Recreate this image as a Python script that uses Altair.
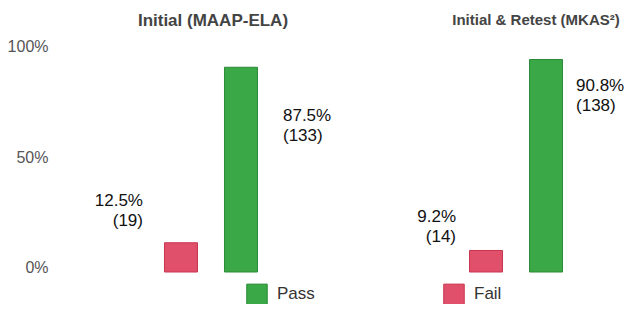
import altair as alt
import pandas as pd

groups = ["Initial (MAAP-ELA)", "Initial & Retest (MKAS²)"]
statuses = ["Fail", "Pass"]
group_col = ["Initial (MAAP-ELA)", "Initial (MAAP-ELA)", "Initial & Retest (MKAS²)", "Initial & Retest (MKAS²)"]
status_col = ["Fail", "Pass", "Fail", "Pass"]
pct = [0.125, 0.875, 0.092, 0.908]
counts = [19, 133, 14, 138]
pct_labels = ["12.5%", "87.5%", "9.2%", "90.8%"]
y_ticks = [0.0, 0.5, 1.0]

df = pd.DataFrame({
    "group": group_col,
    "status": status_col,
    "pct": pct,
    "count": counts,
    "label": [f"{p}\n({c})" for p, c in zip(pct_labels, counts)],
})
ticks_df = pd.DataFrame({"t": y_ticks})
titles_df = pd.DataFrame({"group": groups})

FONT = "Liberation Sans"
RED = "#e0506a"
GREEN = "#3aa846"

xenc = alt.X("group:N", scale=alt.Scale(domain=groups, paddingInner=0.5, paddingOuter=0.104), axis=None)
xoff = alt.XOffset("status:N", scale=alt.Scale(domain=statuses, paddingInner=0.45, paddingOuter=0.496))
ybar = alt.Y("pct:Q", scale=alt.Scale(domain=[0, 1]), axis=None)

bars = alt.Chart(df).mark_bar(strokeWidth=1).encode(
    x=xenc,
    xOffset=xoff,
    y=ybar,
    color=alt.Color(
        "status:N",
        scale=alt.Scale(domain=["Pass", "Fail"], range=[GREEN, RED]),
        legend=alt.Legend(
            title=None, orient="none", legendX=143, legendY=245, direction="horizontal",
            symbolType="square", symbolSize=420, symbolStrokeWidth=1,
            labelFont=FONT, labelFontSize=17, labelColor="#333333", labelOffset=9,
            columnPadding=126, symbolOpacity=1,
        ),
    ),
    stroke=alt.Stroke("status:N", scale=alt.Scale(domain=["Pass", "Fail"], range=["#2a8a36", "#c8344f"]), legend=None),
)

def label_layer(status, group, dx, dy, align):
    return alt.Chart(df).transform_filter(
        (alt.datum.status == status) & (alt.datum.group == group)
    ).mark_text(
        font=FONT, fontSize=17, lineBreak="\n", lineHeight=20, align=align, baseline="middle",
        dx=dx, dy=dy, color="#111111",
    ).encode(x=xenc, xOffset=xoff, y=ybar, text="label:N")

lab1 = label_layer("Fail", groups[0], -38, -42, "right")
lab2 = label_layer("Pass", groups[0], 42, 49, "left")
lab3 = label_layer("Fail", groups[1], -30, -33, "right")
lab4 = label_layer("Pass", groups[1], 30, 26, "left")

title_left = alt.Chart(titles_df).transform_filter(alt.datum.group == groups[0]).mark_text(
    font=FONT, fontSize=17, fontWeight="bold", color="#444444", dx=2
).encode(x=xenc, y=alt.value(-17), text="group:N")
title_right = alt.Chart(titles_df).transform_filter(alt.datum.group == groups[1]).mark_text(
    font=FONT, fontSize=15, fontWeight="bold", color="#444444", dx=20
).encode(x=xenc, y=alt.value(-18), text="group:N")

axis_layer = alt.Chart(ticks_df).mark_point(opacity=0).encode(
    y=alt.Y("t:Q", scale=alt.Scale(domain=[-0.0181, 1.0407], nice=False, zero=False),
            axis=alt.Axis(orient="left", values=y_ticks, format=".0%", title=None, domain=False,
                          ticks=False, grid=False, offset=55, labelPadding=0,
                          labelFont=FONT, labelFontSize=16, labelColor="#555555")),
)

bars_layer = alt.layer(bars, lab1, lab2, lab3, lab4, title_left, title_right)

chart = alt.layer(bars_layer, axis_layer).resolve_scale(y="independent").properties(
    width=521, height=234,
    autosize=alt.AutoSizeParams(type="none"),
    padding={"left": 95, "top": 30, "right": 0, "bottom": 32},
).configure(background="white", view=alt.ViewConfig(stroke=None))

chart.save("out.html", embed_options={"renderer": "svg", "actions": False})
